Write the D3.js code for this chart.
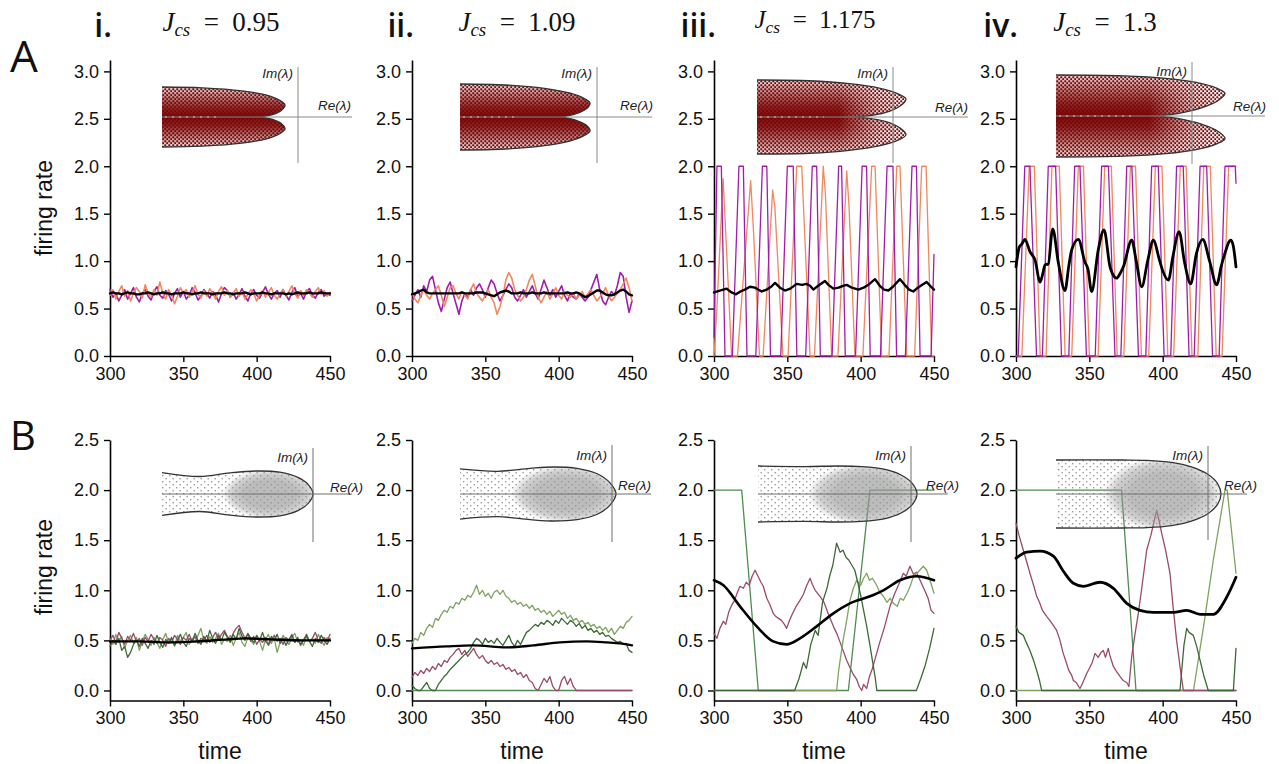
<!DOCTYPE html>
<html><head><meta charset="utf-8">
<script src="https://cdn.jsdelivr.net/npm/d3@7"></script>
<style>body{margin:0;background:#fff}svg{display:block}</style>
</head><body><svg id="chart" width="1279" height="764"></svg>
<script>
// ---------------- DATA ----------------
const ticksX = [300, 350, 400, 450];
const ticksYA = [0, 0.5, 1, 1.5, 2, 2.5, 3];
const ticksYB = [0, 0.5, 1, 1.5, 2, 2.5];
const numerals = ["i.", "ii.", "iii.", "iv."];
const jcsValues = ["0.95", "1.09", "1.175", "1.3"];
const rowLetters = ["A", "B"];

// Row A, panel i (uniform sampling 300..450)
const aiPurple = [0.70,0.62,0.66,0.58,0.64,0.70,0.60,0.66,0.72,0.62,0.57,0.66,0.70,0.63,0.59,0.68,0.73,0.64,0.61,0.69,0.65,0.58,0.66,0.71,0.62,0.68,0.60,0.64,0.72,0.67,0.59,0.63,0.70,0.66,0.61,0.68,0.64,0.57,0.66,0.72,0.69,0.62,0.67,0.60,0.65,0.71,0.63,0.58,0.66,0.70,0.64,0.61,0.67,0.73,0.65,0.60,0.66,0.69,0.62,0.70,0.64,0.59,0.67,0.72,0.63,0.66,0.60,0.68,0.71,0.64,0.61,0.67,0.70,0.63,0.66,0.64];
const aiOrange = [0.64,0.70,0.60,0.68,0.74,0.63,0.69,0.58,0.66,0.72,0.68,0.61,0.75,0.66,0.62,0.70,0.64,0.78,0.66,0.60,0.70,0.64,0.55,0.63,0.72,0.66,0.70,0.62,0.67,0.74,0.65,0.61,0.69,0.63,0.71,0.66,0.60,0.68,0.73,0.64,0.69,0.62,0.66,0.71,0.63,0.68,0.60,0.65,0.70,0.66,0.58,0.64,0.69,0.62,0.67,0.72,0.64,0.60,0.66,0.70,0.63,0.68,0.74,0.66,0.61,0.69,0.64,0.70,0.66,0.62,0.68,0.72,0.65,0.69,0.63,0.67];
const aiMean = [0.66,0.67,0.66,0.66,0.65,0.66,0.67,0.66,0.66,0.65,0.65,0.66,0.66,0.67,0.66,0.65,0.66,0.66,0.67,0.66,0.66,0.65,0.66,0.66,0.66,0.67,0.66,0.66,0.65,0.66,0.66,0.67,0.66,0.66,0.66,0.65,0.66,0.66,0.66,0.67,0.66,0.66,0.65,0.66,0.66,0.66,0.67,0.66,0.65,0.66,0.66,0.66,0.67,0.66,0.66,0.65,0.66,0.66,0.66,0.66,0.65,0.66,0.65,0.66,0.67,0.66,0.66,0.66,0.67,0.66,0.66,0.66,0.67,0.66,0.66,0.66];

// Row A, panel ii
const aiiPurple = [0.58,0.64,0.70,0.62,0.74,0.68,0.80,0.84,0.70,0.56,0.47,0.60,0.72,0.78,0.66,0.55,0.44,0.58,0.66,0.62,0.70,0.64,0.72,0.76,0.70,0.62,0.72,0.80,0.76,0.66,0.58,0.64,0.70,0.76,0.72,0.62,0.58,0.64,0.70,0.62,0.68,0.74,0.66,0.60,0.70,0.80,0.72,0.64,0.70,0.62,0.68,0.74,0.64,0.58,0.66,0.62,0.60,0.66,0.62,0.58,0.62,0.70,0.78,0.86,0.70,0.58,0.54,0.62,0.68,0.64,0.74,0.88,0.84,0.62,0.46,0.58];
const aiiOrange = [0.66,0.60,0.56,0.64,0.70,0.64,0.60,0.66,0.70,0.74,0.64,0.52,0.62,0.72,0.74,0.66,0.60,0.68,0.64,0.60,0.70,0.76,0.66,0.62,0.58,0.64,0.70,0.62,0.56,0.44,0.52,0.64,0.80,0.88,0.82,0.70,0.64,0.58,0.62,0.70,0.80,0.86,0.74,0.62,0.56,0.62,0.68,0.60,0.66,0.72,0.64,0.60,0.68,0.64,0.62,0.66,0.60,0.64,0.68,0.62,0.66,0.70,0.64,0.58,0.62,0.66,0.72,0.64,0.58,0.62,0.66,0.70,0.76,0.82,0.72,0.58];
const aiiMean = [0.65,0.66,0.67,0.69,0.70,0.67,0.66,0.66,0.66,0.66,0.66,0.66,0.66,0.66,0.66,0.66,0.66,0.67,0.66,0.66,0.66,0.66,0.67,0.67,0.67,0.66,0.65,0.64,0.63,0.65,0.67,0.68,0.69,0.68,0.66,0.66,0.66,0.67,0.66,0.66,0.66,0.67,0.66,0.66,0.66,0.67,0.66,0.66,0.66,0.66,0.66,0.66,0.66,0.67,0.66,0.66,0.67,0.66,0.64,0.62,0.63,0.65,0.67,0.69,0.69,0.67,0.65,0.64,0.64,0.65,0.67,0.69,0.70,0.68,0.65,0.64];

// Row A, panel iii  [time, rate]
const aiiiPurple = [[300,0.2],[302,2],[305,2],[307.5,0],[312.5,0],[317,2],[320,2],[322.5,0],[328.5,0],[333,2],[336,2],[338.5,0],[345.5,0],[350,2],[354,2],[356.5,0],[362.5,0],[367,2],[370,2],[372.5,0],[380.5,0],[385,2],[387,2],[389.5,0],[396.5,0],[401,2],[404,2],[406.5,0],[413.5,0],[418,2],[422,2],[424.5,0],[430.5,0],[435,2],[438,2],[440.5,0],[448,0],[450,1.07]];
const aiiiOrange = [[300,0],[302,0.5],[306.2,1.87],[308,1.3],[312,0],[316,0],[325,1.85],[327,1.3],[331,0],[333.5,0],[340,1.75],[341.5,1.57],[343.5,1.0],[347,0],[350.5,0],[356.4,2],[359.8,2],[365.5,0],[368.5,0],[374.5,2],[376,1.7],[380.2,0],[384.5,0],[390.5,1.95],[392,1.6],[396.1,0],[401.5,0],[407.5,2],[409.8,2],[414.3,0],[419.3,0],[424.6,2],[426.8,2],[431.4,0],[436.8,0],[441.6,2],[444.6,2],[448.4,0],[450,0]];
const aiiiMean = [[300,0.67],[304,0.69],[308.6,0.71],[312,0.67],[315,0.65],[318,0.68],[321,0.70],[324.5,0.73],[328,0.72],[332.5,0.68],[336,0.70],[339,0.73],[341.6,0.77],[345,0.72],[348.4,0.69],[352,0.71],[356.4,0.76],[360,0.75],[363,0.76],[365.5,0.74],[367.7,0.70],[371,0.74],[375.7,0.79],[378,0.75],[381.4,0.71],[385,0.72],[388,0.74],[390.5,0.75],[394,0.72],[398.4,0.70],[402,0.72],[406,0.76],[409.8,0.81],[413,0.74],[416,0.70],[418.9,0.69],[422,0.73],[426.8,0.81],[430,0.75],[433,0.70],[435.9,0.68],[439,0.72],[442,0.75],[445,0.78],[448,0.73],[450,0.70]];

// Row A, panel iv
const aivPurple = [[300,0],[301.5,0],[306,2],[309.5,2],[314,0],[318,0],[322,2],[327,2],[331,0],[336,0],[340,2],[343.6,2],[348,0],[354,0],[358.4,2],[363,2],[367.5,0],[371.5,0],[375.5,2],[379,2],[383.5,0],[388.5,0],[392.5,2],[397,2],[401,0],[405.5,0],[409.5,2],[414,2],[418,0],[421.5,0],[425.5,2],[430,2],[434,0],[438.5,0],[442.5,2],[449.5,2],[450,1.82]];
const aivOrange = [[300,0],[304,0],[309,2],[312.5,2],[316.5,0],[320.5,0],[324.5,2],[329.5,2],[333.5,0],[338,0],[342.5,2],[346,2],[350,0],[356,0],[360.5,2],[365,2],[369,0],[373.5,0],[378,2],[381.5,2],[385.5,0],[390.5,0],[395,2],[399.5,2],[403.5,0],[407.5,0],[412,2],[416,2],[420,0],[424,0],[428,2],[432.5,2],[436.5,0],[440.5,0],[445,2],[448,2],[450,2]];
const aivMean = [[300,0.94],[302.3,1.15],[304,1.18],[306.1,1.23],[309.5,1.10],[313,1.01],[316.4,0.78],[318,0.85],[319.8,0.96],[322,0.97],[325,1.34],[328.9,0.98],[333.4,0.69],[336,0.95],[338,1.12],[342.5,1.23],[347,0.99],[349,0.92],[351.6,0.68],[356.1,1.12],[360,1.33],[364.1,0.94],[366,0.86],[368.6,0.82],[371,0.87],[373.2,0.94],[378.9,1.22],[382,1.0],[385.7,0.73],[390,1.02],[393.6,1.22],[398,1.0],[400,0.9],[403.9,0.80],[407,1.05],[411.2,1.31],[415,0.98],[419.1,0.76],[423,1.08],[427.3,1.23],[432,1.0],[436.8,0.75],[440,0.95],[442,1.06],[446.4,1.22],[448,1.17],[450,0.94]];

// Row B, panel i (uniform sampling)
const biDark = [0.44,0.50,0.46,0.52,0.40,0.44,0.33,0.38,0.46,0.50,0.44,0.52,0.47,0.42,0.50,0.46,0.55,0.48,0.43,0.51,0.47,0.53,0.45,0.50,0.56,0.48,0.44,0.52,0.49,0.57,0.50,0.46,0.54,0.49,0.60,0.52,0.47,0.55,0.50,0.58,0.53,0.48,0.56,0.51,0.62,0.54,0.50,0.57,0.52,0.48,0.55,0.50,0.58,0.49,0.46,0.54,0.50,0.56,0.47,0.52,0.45,0.51,0.55,0.48,0.53,0.46,0.50,0.56,0.49,0.44,0.52,0.48,0.55,0.50,0.46,0.52];
const biLight = [0.52,0.46,0.56,0.48,0.54,0.42,0.50,0.55,0.47,0.53,0.40,0.49,0.56,0.51,0.45,0.53,0.48,0.42,0.51,0.57,0.47,0.52,0.44,0.55,0.49,0.53,0.58,0.46,0.52,0.48,0.55,0.62,0.50,0.47,0.54,0.48,0.52,0.57,0.46,0.51,0.49,0.55,0.45,0.52,0.58,0.48,0.44,0.53,0.50,0.46,0.54,0.49,0.40,0.51,0.56,0.47,0.52,0.38,0.48,0.55,0.50,0.46,0.53,0.57,0.48,0.51,0.45,0.54,0.49,0.52,0.47,0.56,0.50,0.45,0.53,0.50];
const biMauve = [0.50,0.55,0.48,0.58,0.52,0.46,0.54,0.50,0.57,0.49,0.52,0.45,0.53,0.49,0.56,0.51,0.47,0.53,0.50,0.44,0.52,0.48,0.55,0.51,0.46,0.53,0.50,0.56,0.49,0.54,0.47,0.52,0.50,0.55,0.48,0.53,0.58,0.51,0.56,0.60,0.54,0.50,0.57,0.62,0.65,0.58,0.52,0.56,0.49,0.54,0.46,0.51,0.48,0.53,0.45,0.50,0.55,0.49,0.52,0.46,0.53,0.50,0.56,0.48,0.52,0.45,0.51,0.54,0.49,0.52,0.58,0.50,0.47,0.53,0.49,0.56];
const biMean = [[300,0.49],[320,0.49],[340,0.48],[360,0.49],[380,0.51],[392,0.52],[410,0.51],[430,0.50],[450,0.50]];

// Row B, panel ii
const biiLight = [0.47,0.52,0.50,0.58,0.55,0.62,0.66,0.63,0.72,0.70,0.76,0.80,0.78,0.84,0.82,0.88,0.86,0.92,0.90,0.95,0.93,0.98,1.05,0.96,1.00,0.94,0.97,0.92,0.98,1.00,0.96,1.00,0.94,0.92,0.88,0.90,0.86,0.88,0.84,0.86,0.82,0.85,0.80,0.82,0.78,0.80,0.76,0.79,0.74,0.77,0.80,0.76,0.78,0.72,0.75,0.70,0.72,0.68,0.70,0.66,0.68,0.64,0.66,0.62,0.64,0.60,0.63,0.58,0.62,0.56,0.60,0.64,0.62,0.68,0.70,0.74];
const biiDark = [0.05,0.02,0.0,0.0,0.04,0.08,0.02,0.0,0.0,0.06,0.10,0.14,0.17,0.21,0.24,0.27,0.30,0.33,0.36,0.38,0.42,0.48,0.52,0.50,0.46,0.52,0.48,0.50,0.47,0.52,0.48,0.45,0.50,0.55,0.48,0.44,0.50,0.46,0.52,0.58,0.60,0.63,0.66,0.64,0.68,0.66,0.70,0.68,0.65,0.70,0.67,0.72,0.69,0.66,0.70,0.68,0.64,0.67,0.62,0.65,0.60,0.62,0.58,0.60,0.56,0.58,0.54,0.55,0.52,0.50,0.48,0.49,0.46,0.47,0.40,0.38];
const biiMauve = [0.13,0.18,0.15,0.20,0.17,0.22,0.19,0.24,0.21,0.27,0.24,0.30,0.28,0.33,0.36,0.40,0.42,0.36,0.40,0.34,0.38,0.42,0.36,0.32,0.35,0.30,0.27,0.30,0.26,0.28,0.24,0.26,0.21,0.23,0.19,0.21,0.16,0.18,0.13,0.16,0.10,0.08,0.02,0.0,0.06,0.12,0.08,0.14,0.04,0.0,0.0,0.10,0.14,0.06,0.12,0.04,0.0,0.0,0,0,0,0,0,0,0,0,0,0,0,0,0,0,0,0,0,0];
const biiMid = [[300,0],[450,0]];
const biiMean = [[300,0.42],[323.6,0.44],[341.8,0.45],[364.5,0.43],[382.7,0.45],[400.9,0.48],[419,0.49],[432.7,0.48],[441.8,0.47],[450,0.45]];

// Row B, panel iii
const biiiMid = [[300,2],[318.9,2],[330.2,0],[391.6,0],[406.3,2],[450,2]];
const biiiDark = [[300,0],[355,0],[358,0.12],[361,0.28],[363,0.22],[366,0.46],[369,0.60],[371,0.55],[374,0.88],[377,1.02],[379,1.15],[381,1.25],[383.6,1.47],[386,1.38],[388,1.40],[390,1.33],[392,1.30],[394,1.25],[396,1.20],[398,1.08],[400,0.95],[402,0.80],[404,0.65],[406,0.48],[408,0.30],[410,0.12],[411,0],[438,0],[441,0.12],[444,0.25],[447,0.42],[450,0.62]];
const biiiLight = [[300,0],[383.6,0],[385,0.2],[386.5,0.35],[388,0.5],[390,0.66],[392.7,0.90],[395,1.02],[397.3,1.10],[400,1.05],[402,1.12],[404.1,1.17],[406,1.10],[408,1.12],[410.9,1.05],[413,0.98],[415.5,0.94],[418,0.88],[420,0.92],[422.3,0.87],[425,0.84],[427,0.92],[429.1,0.90],[432,0.98],[434,1.05],[436,1.14],[439,1.18],[442.7,1.24],[445,1.20],[447.3,1.10],[450,0.97]];
const biiiMauve = [[300,0.57],[302,0.52],[304,0.62],[306.4,0.69],[308,0.66],[310,0.78],[312,0.85],[314,0.90],[316,0.98],[317.7,1.04],[320,1.02],[322,1.08],[324,1.05],[326,1.14],[328,1.20],[330,1.14],[332,1.08],[333.6,1.04],[336,0.92],[338,0.86],[340.4,0.77],[342,0.74],[344,0.72],[346,0.70],[348,0.66],[349.5,0.62],[351,0.68],[353,0.75],[356,0.84],[358.6,0.90],[361,0.96],[363,1.04],[365.5,1.12],[367,1.06],[369,1.0],[372.3,0.94],[375,0.88],[378,0.76],[381.4,0.64],[384,0.56],[387,0.44],[390.5,0.30],[393,0.22],[395,0.16],[397.3,0.11],[399,0.04],[400.7,0],[402,0.06],[404.1,0.02],[406,0.14],[408,0.22],[410.9,0.37],[413,0.48],[416,0.62],[420,0.84],[423,0.96],[426,1.06],[429.1,1.17],[431,1.14],[433.6,1.24],[436,1.16],[438,1.18],[440.5,1.10],[443,1.02],[446,0.92],[448,0.80],[450,0.77]];
const biiiMean = [[300,1.10],[306.4,1.05],[317.7,0.84],[329.1,0.64],[340.4,0.49],[349.5,0.46],[358.6,0.52],[370,0.64],[381.4,0.77],[392.7,0.87],[406.4,0.94],[415.5,1.00],[426.8,1.10],[438.2,1.14],[450,1.10]];

// Row B, panel iv
const bivMid = [[300,2],[372,2],[381.8,0],[450,0]];
const bivLight = [[300,0],[421,0],[428,0.65],[434.5,1.3],[442.5,2],[444,2],[450,1.17]];
const bivDark = [[300,0.64],[302,0.58],[305,0.55],[307,0.48],[309.5,0.40],[312,0.30],[314.1,0.20],[316,0.10],[317.5,0],[411.8,0],[413,0.2],[414.5,0.45],[416.4,0.62],[418,0.58],[420.9,0.55],[423,0.45],[425.5,0.30],[428,0.15],[431.1,0],[448.2,0],[450,0.42]];
const bivMauve = [[300,1.67],[302,1.55],[305,1.40],[307,1.30],[309.5,1.17],[312,1.05],[314.1,0.94],[316,0.88],[318,0.80],[320.9,0.74],[323,0.70],[325,0.66],[327.7,0.60],[330,0.50],[332,0.38],[334.5,0.27],[336,0.20],[338,0.15],[339.1,0.10],[341,0.08],[343.6,0.02],[345,0.06],[348.2,0.17],[350,0.22],[352,0.28],[353.9,0.37],[356,0.33],[358,0.38],[359.5,0.40],[361,0.33],[362.9,0.42],[364,0.35],[366.4,0.24],[368,0.20],[370.9,0.14],[373,0.10],[375.5,0.08],[377,0.04],[378.9,0.34],[381,0.55],[383.4,0.77],[386,1.05],[389.1,1.40],[392,1.55],[395.9,1.80],[397.5,1.70],[399.3,1.57],[402,1.40],[405,1.17],[407,0.85],[409.5,0.50],[412,0.22],[414.1,0],[450,0]];
const bivMean = [[300,1.32],[307.3,1.38],[316.4,1.39],[325.5,1.34],[332.3,1.19],[339.1,1.07],[345.9,1.04],[357.3,1.08],[366.4,1.02],[375.5,0.87],[384.5,0.80],[393.6,0.78],[407.3,0.78],[416.4,0.80],[425.5,0.76],[434.5,0.76],[443.6,0.93],[450,1.13]];

// Inset outlines (upper half; u along shape, v above centre line)
const outlineAi   = [[0,1],[0.33,0.97],[0.65,0.87],[0.85,0.73],[0.96,0.55],[1,0.4],[0.97,0.22],[0.9,0.08],[0.82,0]];
const outlineAii  = [[0,1],[0.35,0.97],[0.65,0.87],[0.85,0.72],[0.96,0.55],[1,0.42],[0.97,0.24],[0.88,0.08],[0.8,0]];
const outlineAiii = [[0,1],[0.35,0.98],[0.62,0.9],[0.82,0.78],[0.95,0.62],[1,0.48],[0.96,0.3],[0.86,0.12],[0.72,0.02],[0.66,0]];
const outlineAiv  = [[0,1],[0.4,0.98],[0.65,0.92],[0.83,0.82],[0.95,0.68],[1,0.55],[0.96,0.38],[0.86,0.2],[0.72,0.06],[0.62,0]];
const outlineBi   = [[0,0.93],[0.25,0.76],[0.45,0.92],[0.62,1],[0.78,0.95],[0.9,0.72],[0.97,0.4],[1,0]];
const outlineBii  = [[0,0.93],[0.24,0.84],[0.45,0.95],[0.6,1],[0.75,0.95],[0.88,0.75],[0.96,0.42],[1,0]];
const outlineBiii = [[0,1],[0.3,0.98],[0.5,1],[0.65,0.98],[0.8,0.88],[0.9,0.68],[0.97,0.38],[1,0]];
const outlineBiv  = [[0,1],[0.4,1],[0.55,0.99],[0.7,0.93],[0.82,0.8],[0.92,0.58],[0.98,0.3],[1,0]];

// ---------------- LAYOUT / STYLE ----------------
const C = {purple:"#a21cab", orange:"#f0875f", mauve:"#9a4a6b", dark:"#3f6837", light:"#7ea35f", mid:"#4f8c50", red:"#7a0505"};
const colLeft = [110, 412, 714, 1016];
const plotW = 220;
const rowA = {y0:356, y1:60, dom:[0,3.12], ticks:ticksYA};
const rowB = {y0:700.5, y1:440, dom:[-0.1,2.5], ticks:ticksYB};

const svg = d3.select("#chart");
svg.append("rect").attr("width",1279).attr("height",764).attr("fill","#fff");
const defs = svg.append("defs");
function pattern(id, w, h, marks, color) {
  const p = defs.append("pattern").attr("id",id).attr("width",w).attr("height",h).attr("patternUnits","userSpaceOnUse");
  marks.forEach(([x,y,s]) => p.append("rect").attr("x",x).attr("y",y).attr("width",s).attr("height",s).attr("fill",color));
}
pattern("redSparse", 4, 4, [[0.3,0.3,1.9],[2.3,2.2,1.9]], C.red);
pattern("redDense", 3, 3, [[0,0,3],[0,0,0]], C.red);
pattern("greySparse", 7, 6, [[1,1,1.4],[4.5,4,1.4]], "#9a9a9a");
pattern("greyDense", 2, 2, [[0.2,0.2,1.6]], "#979797");
const bg = defs.append("linearGradient").attr("id","bandGrad").attr("x1",0).attr("y1",0).attr("x2",0).attr("y2",1);
[[0,0.15],[0.15,0.45],[0.35,0.85],[0.5,1],[0.65,0.85],[0.85,0.45],[1,0.15]].forEach(([o,a])=>bg.append("stop").attr("offset",o).attr("stop-color","#fff").attr("stop-opacity",a));
const hg = defs.append("linearGradient").attr("id","fadeRight").attr("x1",0).attr("y1",0).attr("x2",1).attr("y2",0);
[[0,1],[0.55,1],[0.8,0.3],[1,0.05]].forEach(([o,a])=>hg.append("stop").attr("offset",o).attr("stop-color","#fff").attr("stop-opacity",a));
const cg = defs.append("radialGradient").attr("id","cloudGrad");
[[0,1],[0.55,1],[0.8,0.7],[1,0]].forEach(([o,a])=>cg.append("stop").attr("offset",o).attr("stop-color","#fff").attr("stop-opacity",a));

const grid = vals => vals.map((v,i)=>[300 + i*150/(vals.length-1), v]);

const panels = [
  {row:rowA, col:0, series:[[grid(aiPurple),C.purple,1.6],[grid(aiOrange),C.orange,1.6],[grid(aiMean),"#000",2.4]]},
  {row:rowA, col:1, series:[[grid(aiiPurple),C.purple,1.6],[grid(aiiOrange),C.orange,1.6],[grid(aiiMean),"#000",2.4]]},
  {row:rowA, col:2, series:[[aiiiOrange,C.orange,1.3],[aiiiPurple,C.purple,1.3],[aiiiMean,"#000",2.4]]},
  {row:rowA, col:3, series:[[aivOrange,C.orange,1.3],[aivPurple,C.purple,1.3],[aivMean,"#000",2.8,true]]},
  {row:rowB, col:0, series:[[grid(biLight),C.light,1.3],[grid(biMauve),C.mauve,1.3],[grid(biDark),C.dark,1.3],[biMean,"#000",2.4,true]]},
  {row:rowB, col:1, series:[[biiMid,C.mid,1.3],[grid(biiMauve),C.mauve,1.3],[grid(biiLight),C.light,1.3],[grid(biiDark),C.dark,1.3],[biiMean,"#000",2.4,true]]},
  {row:rowB, col:2, series:[[biiiMid,C.mid,1.3],[biiiMauve,C.mauve,1.3],[biiiLight,C.light,1.3],[biiiDark,C.dark,1.3],[biiiMean,"#000",2.6,true]]},
  {row:rowB, col:3, series:[[bivMid,C.mid,1.3],[bivLight,C.light,1.3],[bivMauve,C.mauve,1.3],[bivDark,C.dark,1.3],[bivMean,"#000",2.8,true]]},
];

const insets = [
  {kind:"A", outline:outlineAi,   x0:162, tip:285, cy:117, h:30, vx:298, vy:[67,163], hEnd:352, imY:78, reX:318, reY:110},
  {kind:"A", outline:outlineAii,  x0:460, tip:590, cy:117, h:33, vx:597, vy:[67,163], hEnd:652, imY:78, reX:620, reY:110},
  {kind:"A", outline:outlineAiii, x0:757, tip:906, cy:117, h:37, vx:893, vy:[67,163], hEnd:968, imY:78, reX:935, reY:112, fade:true},
  {kind:"A", outline:outlineAiv,  x0:1056, tip:1225, cy:116, h:41, vx:1192, vy:[62,164], hEnd:1265, imY:76, reX:1233, reY:111, fade:true},
  {kind:"B", outline:outlineBi,   x0:162, tip:313, cy:494, h:23, vx:313, vy:[448,542], hEnd:352, imY:462, reX:330, reY:492, cloud:[270,494,48,25]},
  {kind:"B", outline:outlineBii,  x0:460, tip:616, cy:494, h:27, vx:612, vy:[445,542], hEnd:651, imY:460, reX:618, reY:490, cloud:[567,494,56,29]},
  {kind:"B", outline:outlineBiii, x0:758, tip:917, cy:494, h:28, vx:911, vy:[446,542], hEnd:948, imY:460, reX:926, reY:490, cloud:[866,494,58,31]},
  {kind:"B", outline:outlineBiv,  x0:1056, tip:1221, cy:494, h:34, vx:1208, vy:[446,540], hEnd:1247, imY:460, reX:1224, reY:490, cloud:[1163,494,60,37]},
];

function makeMask(id, shapeFn) {
  const m = defs.append("mask").attr("id",id).attr("maskUnits","userSpaceOnUse")
    .attr("x",0).attr("y",0).attr("width",1279).attr("height",764);
  shapeFn(m);
}

function drawInset(g, s, idx) {
  const W = s.tip - s.x0;
  const up = s.outline.map(([u,v]) => [s.x0 + u*W, s.cy - v*s.h]);
  const lo = s.outline.slice().reverse().slice(1).map(([u,v]) => [s.x0 + u*W, s.cy + v*s.h]);
  const pts = up.concat(lo);
  const line = d3.line().curve(d3.curveCatmullRom.alpha(0.5));
  const dOpen = line(pts);
  const dClosed = dOpen + "Z";
  const cid = "clip" + idx;
  defs.append("clipPath").attr("id",cid).append("path").attr("d",dClosed);
  if (s.kind === "A") {
    makeMask("band"+idx, m => m.append("rect").attr("x",s.x0).attr("y",s.cy-s.h).attr("width",W).attr("height",2*s.h).attr("fill","url(#bandGrad)"));
    makeMask("fade"+idx, m => m.append("rect").attr("x",s.x0).attr("y",s.cy-s.h).attr("width",W).attr("height",2*s.h).attr("fill", s.fade ? "url(#fadeRight)" : "#fff"));
    g.append("path").attr("d",dClosed).attr("fill","url(#redSparse)");
    g.append("g").attr("clip-path",`url(#${cid})`)
      .append("g").attr("mask",`url(#fade${idx})`)
      .append("g").attr("mask",`url(#band${idx})`)
      .append("rect").attr("x",s.x0).attr("y",s.cy-s.h).attr("width",W).attr("height",2*s.h).attr("fill",C.red);
    g.append("line").attr("x1",s.x0+3).attr("x2",s.x0+W*0.45).attr("y1",s.cy).attr("y2",s.cy).attr("stroke","#fff").attr("stroke-width",1.5).attr("stroke-dasharray","2,5").attr("opacity",0.7);
  } else {
    const [cx,cy,rx,ry] = s.cloud;
    makeMask("cloud"+idx, m => m.append("ellipse").attr("cx",cx).attr("cy",cy).attr("rx",rx).attr("ry",ry).attr("fill","url(#cloudGrad)"));
    g.append("path").attr("d",dClosed).attr("fill","url(#greySparse)");
    g.append("g").attr("clip-path",`url(#${cid})`).append("g").attr("mask",`url(#cloud${idx})`)
      .append("rect").attr("x",cx-rx).attr("y",cy-ry).attr("width",2*rx).attr("height",2*ry).attr("fill","url(#greyDense)");
  }
  g.append("path").attr("d",dOpen).attr("fill","none").attr("stroke","#333").attr("stroke-width",1.3);
  const axc = s.kind === "A" ? "#8a8a8a" : "#6f6f6f";
  g.append("line").attr("x1",s.x0).attr("x2",s.hEnd).attr("y1",s.cy).attr("y2",s.cy).attr("stroke",axc).attr("stroke-width",1);
  g.append("line").attr("x1",s.vx).attr("x2",s.vx).attr("y1",s.vy[0]).attr("y2",s.vy[1]).attr("stroke",axc).attr("stroke-width",1);
  const tf = {"font-family":"Liberation Sans, Arial, sans-serif","font-size":"13.5px","font-style":"italic","fill":"#222"};
  const im = g.append("text").attr("x",s.vx-5).attr("y",s.imY).attr("text-anchor","end").text("Im(λ)");
  const re = g.append("text").attr("x",s.reX).attr("y",s.reY).text("Re(λ)");
  [im,re].forEach(t=>Object.entries(tf).forEach(([k,v])=>t.style(k,v)));
}

const fontSans = "Liberation Sans, Arial, Helvetica, sans-serif";

panels.forEach((p, i) => {
  const x = d3.scaleLinear().domain([300,450]).range([colLeft[p.col], colLeft[p.col]+plotW]);
  const y = d3.scaleLinear().domain(p.row.dom).range([p.row.y0, p.row.y1]);
  const g = svg.append("g");
  const ax = g.append("g").attr("transform",`translate(0,${p.row.y0})`)
    .call(d3.axisBottom(x).tickValues(ticksX).tickSize(6).tickPadding(5).tickSizeOuter(0));
  const ay = g.append("g").attr("transform",`translate(${colLeft[p.col]},0)`)
    .call(d3.axisLeft(y).tickValues(p.row.ticks).tickFormat(d3.format(".1f")).tickSize(6).tickPadding(5).tickSizeOuter(0));
  [ax,ay].forEach(a=>{
    a.select(".domain").attr("stroke","#000").attr("stroke-width",1.6);
    a.selectAll(".tick line").attr("stroke","#000").attr("stroke-width",1.4);
    a.selectAll(".tick text").attr("fill","#111").style("font-family",fontSans).style("font-size","18px");
  });
  p.series.forEach(([data,color,w,smooth]) => {
    const line = d3.line().x(d=>x(d[0])).y(d=>y(d[1])).curve(smooth ? d3.curveMonotoneX : d3.curveLinear);
    g.append("path").datum(data).attr("d",line).attr("fill","none").attr("stroke",color)
      .attr("stroke-width",w).attr("stroke-linejoin","round").attr("stroke-linecap","round");
  });
  drawInset(g.append("g"), insets[i], i);
  if (p.row === rowB) {
    g.append("text").attr("x",colLeft[p.col]+plotW/2).attr("y",759).attr("text-anchor","middle")
      .style("font-family",fontSans).style("font-size","23px").attr("fill","#111").text("time");
  }
});

[208, 567].forEach(cy=>{
  svg.append("text").attr("transform",`translate(52,${cy}) rotate(-90)`).attr("text-anchor","middle")
    .style("font-family",fontSans).style("font-size","23px").attr("fill","#111").text("firing rate");
});
svg.append("text").attr("x",10).attr("y",72).style("font-family","Open Sans, sans-serif").style("font-size","44px").attr("fill","#111").text(rowLetters[0]);
svg.append("text").attr("x",10).attr("y",450).style("font-family","Open Sans, sans-serif").style("font-size","40px").attr("fill","#111").text(rowLetters[1]);
const titleCenters = [221, 517, 815, 1105];
numerals.forEach((n,i)=>{
  svg.append("text").attr("x",colLeft[i]+2).attr("y",37).attr("text-anchor","end")
    .style("font-family","Open Sans, sans-serif").style("font-size","32px").style("font-weight","600").attr("fill","#111").text(n);
  const t = svg.append("text").attr("x",titleCenters[i]).attr("y",i===2?28:31).attr("text-anchor","middle")
    .style("font-family","Liberation Serif, DejaVu Serif, serif").style("font-size", i===2?"25px":"27px").attr("fill","#111");
  t.append("tspan").style("font-style","italic").text("J");
  t.append("tspan").style("font-style","italic").style("font-size","0.7em").attr("dy",5).text("cs");
  t.append("tspan").attr("dy",-5).text("\u2002=\u2002" + jcsValues[i]);
});
</script></body></html>
